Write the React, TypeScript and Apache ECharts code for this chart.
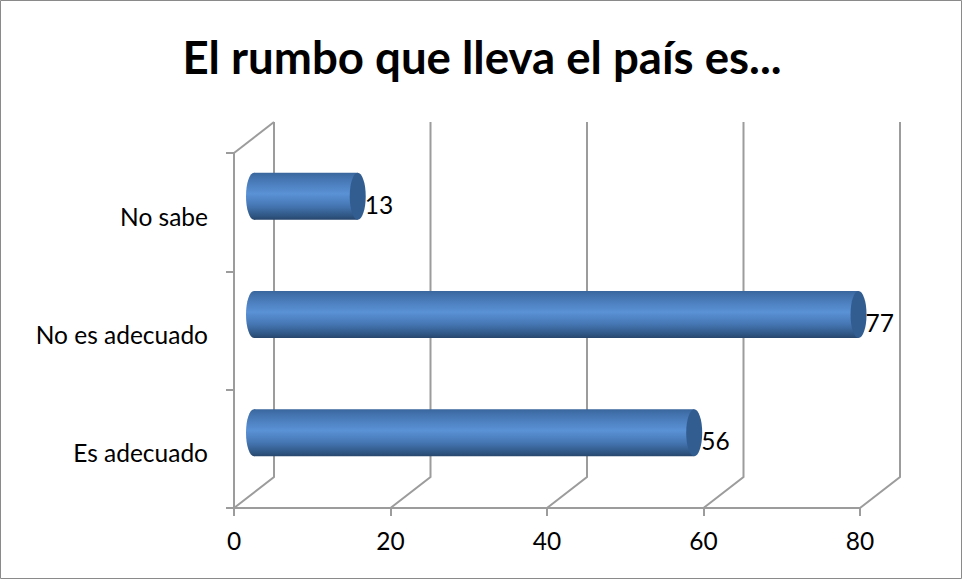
import React, { useEffect, useRef } from "react";
import * as echarts from "echarts";

const titleText = "El rumbo que lleva el país es...";
const categories = ["Es adecuado", "No es adecuado", "No sabe"];
const values = [56, 77, 13];
const xTicks = [0, 20, 40, 60, 80];

const AXIS = "#9c9c9c";
const FONT = "Lato, 'Open Sans', sans-serif";
const DEPTH_X = 40;
const DEPTH_Y = 31;
const BAR_H = 47;
const CAP_RX = 8;

const bodyFill = () =>
  new echarts.graphic.LinearGradient(0, 0, 0, 1, [
    { offset: 0, color: "#39669c" },
    { offset: 0.12, color: "#4474b0" },
    { offset: 0.45, color: "#5a92d6" },
    { offset: 0.7, color: "#4677b4" },
    { offset: 0.92, color: "#2f5683" },
    { offset: 1, color: "#27466c" },
  ]);

export default function App() {
  const ref = useRef<HTMLDivElement>(null);
  useEffect(() => {
    const chart = echarts.init(ref.current!, undefined, { renderer: "svg" });
    chart.setOption({
      animation: false,
      backgroundColor: "#ffffff",
      title: {
        text: titleText,
        left: 477,
        top: 28,
        textAlign: "center",
        textStyle: { fontFamily: FONT, fontSize: 45.6, fontWeight: "bold", color: "#000" },
      },
      graphic: [
        {
          type: "rect",
          shape: { x: 0.5, y: 0.5, width: 961, height: 578 },
          style: { fill: "none", stroke: "#8a8a8a", lineWidth: 1 },
          silent: true,
        },
      ],
      grid: { left: 234, top: 153, width: 626, height: 355 },
      xAxis: {
        type: "value",
        min: 0,
        max: 80,
        interval: 20,
        axisLine: { show: true, lineStyle: { color: AXIS, width: 2 } },
        axisTick: { show: true, length: 8, lineStyle: { color: AXIS, width: 2 } },
        splitLine: { show: false },
        axisLabel: {
          color: "#000",
          fontFamily: FONT,
          fontSize: 24.5,
          margin: 20,
          formatter: (v: number) => (xTicks.includes(v) ? String(v) : ""),
        },
      },
      yAxis: {
        type: "category",
        data: categories,
        axisLine: { show: true, onZero: false, lineStyle: { color: AXIS, width: 2 } },
        axisTick: { show: true, length: 8, alignWithLabel: false, lineStyle: { color: AXIS, width: 2 } },
        splitLine: { show: false },
        axisLabel: {
          color: "#000",
          fontFamily: FONT,
          fontSize: 24.5,
          margin: 26,
          verticalAlign: "top",
          lineHeight: 8,
        },
      },
      series: [
        {
          type: "custom",
          silent: true,
          data: xTicks.map((v) => [v, 0]),
          encode: { x: 0 },
          renderItem: (params: any, api: any) => {
            const v = api.value(0);
            const x = api.coord([v, 0])[0];
            const cs = params.coordSys;
            const top = cs.y;
            const bottom = cs.y + cs.height;
            const style = { stroke: AXIS, lineWidth: 2, fill: "none" };
            const children: any[] = [
              {
                type: "polyline",
                shape: {
                  points: [
                    [x, bottom],
                    [x + DEPTH_X, bottom - DEPTH_Y],
                    [x + DEPTH_X, top - DEPTH_Y],
                  ],
                },
                style,
              },
            ];
            if (v === 0) {
              children.push({
                type: "line",
                shape: { x1: x, y1: top, x2: x + DEPTH_X, y2: top - DEPTH_Y },
                style,
              });
            }
            return { type: "group", children };
          },
          z: 1,
        },
        {
          type: "custom",
          silent: true,
          data: values.map((v, i) => [v, i]),
          encode: { x: 0, y: 1 },
          renderItem: (_params: any, api: any) => {
            const v = api.value(0);
            const i = api.value(1);
            const start = api.coord([0, i]);
            const end = api.coord([v, i]);
            const cx0 = start[0] + 20;
            const cx1 = end[0] + 22;
            const cy = start[1] - 16;
            return {
              type: "group",
              children: [
                {
                  type: "ellipse",
                  shape: { cx: cx0, cy, rx: CAP_RX, ry: BAR_H / 2 },
                  style: { fill: bodyFill() },
                },
                {
                  type: "rect",
                  shape: { x: cx0, y: cy - BAR_H / 2, width: cx1 - cx0, height: BAR_H },
                  style: { fill: bodyFill() },
                },
                {
                  type: "ellipse",
                  shape: { cx: cx1, cy, rx: CAP_RX, ry: BAR_H / 2 },
                  style: { fill: "#325d90" },
                },
                {
                  type: "text",
                  style: {
                    text: String(v),
                    x: cx1 + CAP_RX - 1,
                    y: cy + 8,
                    fill: "#000",
                    font: `24.5px ${FONT}`,
                    textAlign: "left",
                    textVerticalAlign: "middle",
                  },
                },
              ],
            };
          },
          z: 3,
        },
      ],
    });
    return () => chart.dispose();
  }, []);
  return (
    <div
      ref={ref}
      style={{ position: "fixed", left: 0, top: 0, width: 963, height: 580 }}
    />
  );
}
